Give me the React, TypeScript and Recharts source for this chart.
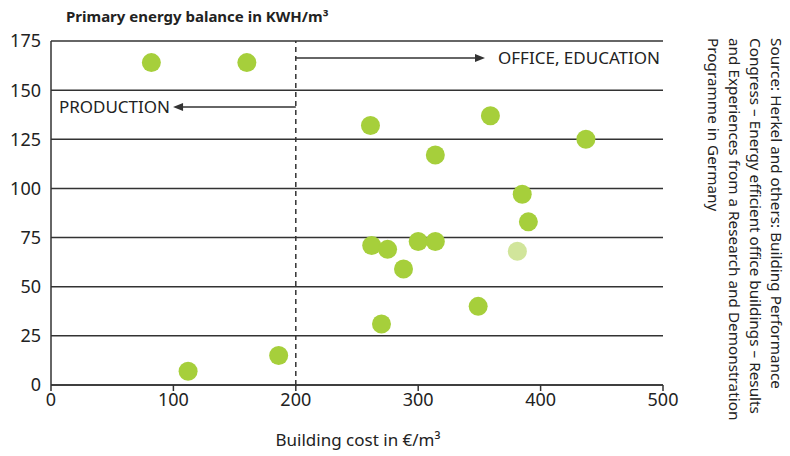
import { ScatterChart, Scatter, XAxis, YAxis, CartesianGrid, ReferenceLine, Cell } from 'recharts';

const costs = [82, 160, 261, 359, 314, 437, 385, 390, 262, 275, 300, 314, 288, 381, 349, 270, 112, 186];
const energy = [164, 164, 132, 137, 117, 125, 97, 83, 71, 69, 73, 73, 59, 68, 40, 31, 7, 15];
const faded = [false, false, false, false, false, false, false, false, false, false, false, false, false, true, false, false, false, false];

const xTicks = [0, 100, 200, 300, 400, 500];
const yTicks = [0, 25, 50, 75, 100, 125, 150, 175];

const sourceLines = [
  'Source: Herkel and others: Building Performance',
  'Congress – Energy efficient office buildings – Results',
  'and Experiences from a Research and Demonstration',
  'Programme in Germany',
];

const points = costs.map((c, i) => ({ cost: c, energy: energy[i], faded: faded[i] }));

const FONT = '"Noto Sans", sans-serif';
const INK = '#333';

// arrow with label, drawn from the reference line's pixel coords
const arrowShape = (label: string, side: 'left' | 'right') => (p: any) => {
  const { x1, y1, x2, y2 } = p;
  const dir = x2 > x1 ? 1 : -1;
  const tip = x2;
  return (
    <g>
      <line x1={x1} y1={y1} x2={tip - dir * 8} y2={y2} stroke={INK} strokeWidth={1.5} />
      <polygon
        points={`${tip},${y2} ${tip - dir * 10},${y2 - 4} ${tip - dir * 10},${y2 + 4}`}
        fill={INK}
      />
      <text
        x={side === 'right' ? tip + 13 : tip - 3}
        y={y2}
        dy="0.35em"
        textAnchor={side === 'right' ? 'start' : 'end'}
        fontFamily={FONT}
        fontSize={17}
        fill="#222"
      >
        {label}
      </text>
    </g>
  );
};

export default function App() {
  return (
    <div style={{ position: 'absolute', left: 0, top: 0, width: 790, height: 456, background: '#fff' }}>
      <div
        style={{
          position: 'absolute',
          left: 66,
          top: 6,
          fontFamily: FONT,
          fontWeight: 700,
          fontSize: 15,
          color: '#222',
        }}
      >
        Primary energy balance in KWH/m³
      </div>

      <ScatterChart width={790} height={456} margin={{ top: 41, right: 127, bottom: 41, left: 0 }}>
        <CartesianGrid horizontal vertical={false} stroke={INK} strokeWidth={1.5} strokeOpacity={1} />
        <XAxis
          type="number"
          dataKey="cost"
          domain={[0, 500]}
          ticks={xTicks}
          height={30}
          axisLine={{ stroke: INK, strokeWidth: 1.5 }}
          tickLine={{ stroke: INK, strokeWidth: 1.5 }}
          tickSize={6}
          tick={{ fill: '#222', fontSize: 18, fontFamily: FONT }}
        />
        <YAxis
          type="number"
          dataKey="energy"
          domain={[0, 175]}
          ticks={yTicks}
          width={51}
          axisLine={{ stroke: INK, strokeWidth: 1.5 }}
          tickLine={false}
          tick={{ fill: '#222', fontSize: 18, fontFamily: FONT, dx: -2 }}
        />
        <ReferenceLine x={200} stroke={INK} strokeWidth={1.5} strokeDasharray="5 4" />
        <ReferenceLine
          segment={[{ x: 200, y: 166.3 }, { x: 354.6, y: 166.3 }]}
          shape={arrowShape('OFFICE, EDUCATION', 'right')}
        />
        <ReferenceLine
          segment={[{ x: 200, y: 141.4 }, { x: 99.7, y: 141.4 }]}
          shape={arrowShape('PRODUCTION', 'left')}
        />
        <Scatter
          data={points}
          isAnimationActive={false}
          shape={(p: any) => <circle cx={p.cx} cy={p.cy} r={9.5} fill={p.fill} />}
        >
          {points.map((d, i) => (
            <Cell key={i} fill={d.faded ? '#d1e59b' : '#a6cf3b'} />
          ))}
        </Scatter>
      </ScatterChart>

      <div
        style={{
          position: 'absolute',
          left: 358,
          top: 428,
          transform: 'translateX(-50%)',
          fontFamily: FONT,
          fontSize: 17,
          color: '#222',
          whiteSpace: 'nowrap',
        }}
      >
        Building cost in €/m³
      </div>

      <div
        style={{
          position: 'absolute',
          right: 3,
          top: 38,
          writingMode: 'vertical-rl',
          fontFamily: FONT,
          fontSize: 15.3,
          lineHeight: '21px',
          color: '#222',
          whiteSpace: 'nowrap',
        }}
      >
        {sourceLines.map((l, i) => (
          <div key={i}>{l}</div>
        ))}
      </div>
    </div>
  );
}
